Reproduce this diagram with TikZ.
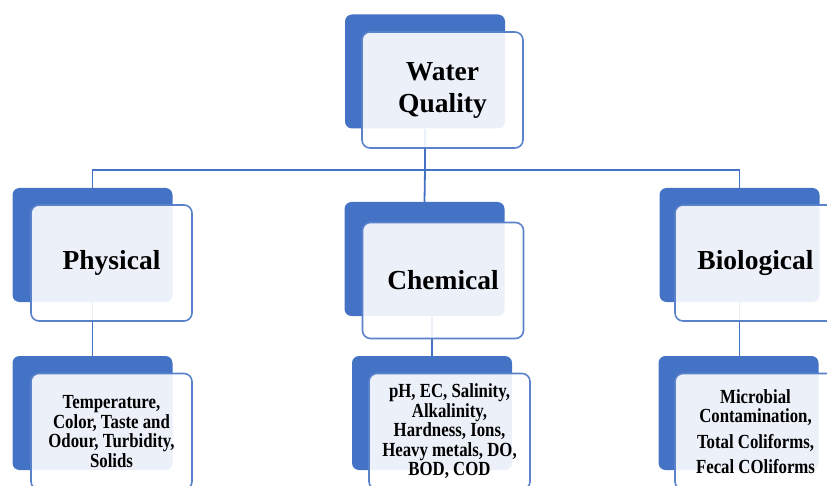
\documentclass[tikz,border=0pt]{standalone}
\usepackage{fontspec}
\setmainfont{Liberation Serif}
\newfontfamily\detfont[FakeStretch=0.84]{Liberation Serif}
\usepackage{tikz}
\definecolor{wqblue}{HTML}{4472C4}
\definecolor{wqedge}{HTML}{5A82CA}

\begin{document}
\begin{tikzpicture}[x=1pt, y=-1pt,
        backbox/.style={fill=wqblue, rounded corners=7pt, minimum width=160pt, minimum height=114pt, inner sep=0pt},
        frontbox/.style={draw=wqedge, line width=1.6pt, fill=white, fill opacity=0.9, text opacity=1, rounded corners=8pt, minimum width=161pt, minimum height=116pt, inner sep=0pt, align=center},
        bigtext/.style={font=\fontsize{27.5}{32}\selectfont\bfseries},
        smalltext/.style={font=\detfont\fontsize{20}{19.5}\selectfont\bfseries},
        link/.style={draw=wqblue, line width=1.8pt}]
        \clip (0,0) rectangle (827,486);
        % back boxes
        \node[backbox] (wqb) at (425,71.5) {};
        \node[backbox] (phyb) at (92.5,245) {};
        \node[backbox] (chmb) at (424.5,259) {};
        \node[backbox] (biob) at (739.5,245) {};
        \node[backbox] (phydb) at (92.5,413) {};
        \node[backbox] (chmdb) at (432,413) {};
        \node[backbox] (biodb) at (738.5,413) {};
        % connectors
        \draw[link] (wqb.south) -- ++(0,41) coordinate (bus);
        \draw[link] (phyb.north) |- (bus) -| (biob.north);
        \draw[link] (bus) -- (chmb.north);
        \draw[link] (phyb.south) -- (phydb.north);
        \draw[link] (chmb.south -| chmdb.north) -- (chmdb.north);
        \draw[link] (biob.south) -- (biob.south |- biodb.north);
        % front boxes
        \node[frontbox, bigtext] (wq) at (442.5,90) {Water\\Quality};
        \node[frontbox, bigtext] (phy) at (111.5,263) {Physical};
        \node[frontbox, bigtext] (chm) at (443,280.5) {Chemical};
        \node[frontbox, bigtext] (bio) at (755.5,263) {Biological};
        \node[frontbox, smalltext] (phyd) at (111.5,431.5) {Temperature,\\Color, Taste and\\Odour, Turbidity,\\Solids};
        \node[frontbox, smalltext] (chmd) at (449.5,431.5) {pH, EC, Salinity,\\Alkalinity,\\Hardness, Ions,\\Heavy metals, DO,\\BOD, COD};
        \node[frontbox, smalltext] (biod) at (755.5,431.5) {Microbial\\Contamination,\\[6pt]Total Coliforms,\\[6pt]Fecal COliforms};
    \end{tikzpicture}
\end{document}
